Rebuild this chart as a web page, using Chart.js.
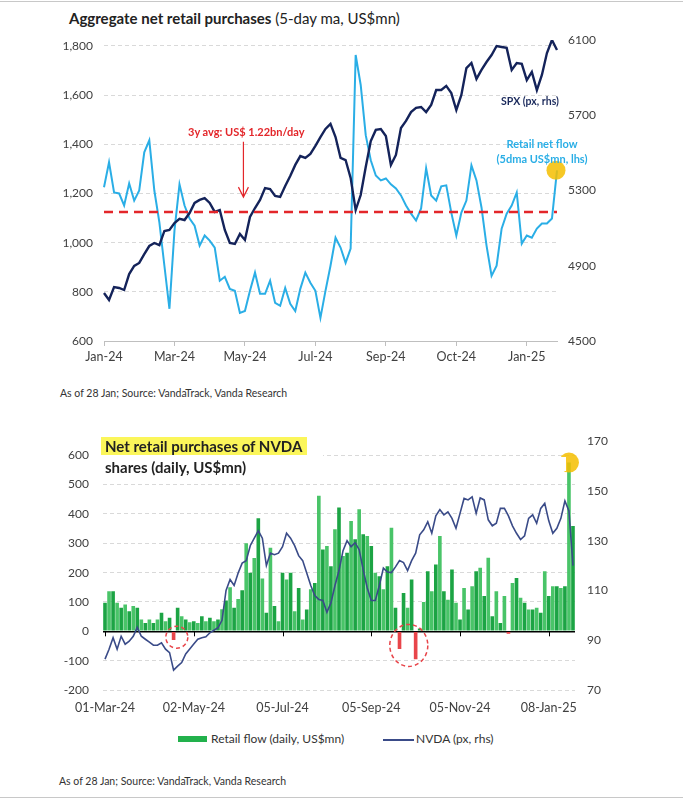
<!DOCTYPE html>
<html>
<head>
<meta charset="utf-8">
<script src="https://cdn.jsdelivr.net/npm/chart.js@4.4.1/dist/chart.umd.min.js"></script>
<style>
  body { margin: 0; background: #fff; font-family: Lato, "Open Sans", sans-serif; }
  #wrap { position: relative; width: 683px; height: 800px; overflow: hidden; background: #fff; }
  .abs { position: absolute; white-space: nowrap; }
  .rule { position: absolute; left: 0; width: 683px; height: 1px; background: #c8c8c8; }
  .src { font-size: 10.5px; color: #333; }
</style>
</head>
<body>
<div id="wrap">
  <div class="rule" style="top:1px"></div>

  <div class="abs" style="left:69px;top:9px;font-size:15px;color:#222;">
    <b>Aggregate net retail purchases</b> (5-day ma, US$mn)
  </div>
  <canvas id="top_chart" class="abs" style="left:0;top:0" width="683" height="380"></canvas>
  <div class="abs" style="left:188px;top:125px;font-size:11px;font-weight:bold;color:#e3262a;">3y avg: US$ 1.22bn/day</div>
  <div class="abs" style="left:501px;top:95px;font-size:10.5px;font-weight:bold;color:#1b2a5c;">SPX (px, rhs)</div>
  <div class="abs" style="left:494px;top:136px;width:96px;text-align:center;font-size:11px;font-weight:bold;color:#2aaee6;line-height:15px;">Retail net flow<br>(5dma US$mn, lhs)</div>
  <div class="abs src" style="left:60px;top:387px;">As of 28 Jan; Source: VandaTrack, Vanda Research</div>

  <canvas id="nvda_chart" class="abs" style="left:0;top:420px" width="683" height="300"></canvas>
  <div class="abs" style="left:101px;top:435px;width:222px;height:44px;background:#fff;"></div>
  <div class="abs" style="left:101px;top:436px;font-size:15px;font-weight:bold;color:#222;line-height:21px;">
    <span style="background:#fbf65a;padding:0 5px 0 4px;">Net retail purchases of NVDA</span><br>
    <span style="padding-left:4px;">shares (daily, US$mn)</span>
  </div>
  <div class="abs" style="left:482px;top:457px;width:84px;height:14px;background:#fff;"></div>

  <div class="abs" style="left:178px;top:736px;width:29px;height:6px;background:#22b14c;"></div>
  <div class="abs" style="left:211px;top:731px;font-size:12px;color:#333;">Retail flow (daily, US$mn)</div>
  <div class="abs" style="left:383px;top:739px;width:31px;height:1.5px;background:#3a4b88;"></div>
  <div class="abs" style="left:416px;top:731px;font-size:12px;color:#333;">NVDA (px, rhs)</div>
  <div class="abs src" style="left:59px;top:775px;">As of 28 Jan; Source: VandaTrack, Vanda Research</div>
  <div class="rule" style="top:797px"></div>
</div>

<script>
// top chart: 5-day MA retail flow vs SPX, one point every ~3 trading days
var topTickLabels = ['Jan-24', 'Mar-24', 'May-24', 'Jul-24', 'Sep-24', 'Oct-24', 'Jan-25'];
var topTickEvery = 14;
var flowTicks = [600, 800, 1000, 1200, 1400, 1600, 1800];
var spxTicks = [4500, 4900, 5300, 5700, 6100];

var spxPx = [4755, 4718, 4787, 4782, 4771, 4856, 4899, 4915, 4962, 5005,
  5021, 5010, 5085, 5090, 5127, 5149, 5143, 5180, 5234, 5250,
  5260, 5234, 5186, 5196, 5090, 5021, 5016, 5069, 5037, 5159,
  5207, 5250, 5313, 5308, 5271, 5266, 5324, 5377, 5436, 5483,
  5473, 5494, 5537, 5584, 5627, 5654, 5584, 5473, 5462, 5367,
  5196, 5276, 5425, 5563, 5622, 5627, 5590, 5436, 5489, 5632,
  5670, 5717, 5739, 5744, 5717, 5755, 5834, 5834, 5856, 5818,
  5728, 5808, 5951, 5978, 5893, 5941, 5983, 6020, 6068, 6063,
  6058, 5941, 5978, 5973, 5887, 5930, 5834, 5914, 6031, 6100, 6047];

var retailFlow = [1225, 1327, 1204, 1200, 1151, 1241, 1171, 1212, 1367, 1416,
  1212, 1082, 906, 731, 1049, 1237, 1151, 1098, 1069, 988,
  1029, 1008, 980, 845, 861, 812, 804, 714, 722, 804,
  878, 792, 792, 845, 755, 743, 816, 751, 722, 812,
  878, 837, 804, 694, 804, 906, 1020, 980, 918, 976,
  1763, 1641, 1437, 1335, 1273, 1253, 1261, 1237, 1220, 1192,
  1151, 1118, 1090, 1139, 1302, 1192, 1171, 1229, 1233, 1122,
  1029, 1122, 1171, 1314, 1253, 1143, 988, 865, 906, 1057,
  1118, 1151, 1204, 996, 1029, 1020, 1057, 1078, 1078, 1098, 1294];

var avgFlow = 1125;

// bottom chart: NVDA daily retail flow vs price, one bar every ~2 trading days
var nvdaTickLabels = ['01-Mar-24', '02-May-24', '05-Jul-24', '05-Sep-24', '05-Nov-24', '08-Jan-25'];
var nvdaTickEvery = 22;
var nvdaFlowTicks = [-200, -100, 0, 100, 200, 300, 400, 500, 600];
var nvdaPxTicks = [70, 90, 110, 130, 150, 170];

var nvdaFlow = [97, 137, 137, 97, 80, 91, 68, 86, 80, 40,
  28, 40, 28, 40, 63, 34, 46, -30, 80, 51,
  40, 31, 34, 28, 51, 34, 46, 34, 40, 75,
  105, 150, 80, 110, 140, 300, 200, 250, 385, 180,
  63, 285, 86, 34, 200, 177, 200, 68, 148, 40,
  74, 143, 165, 462, 279, 291, 222, 348, 422, 257,
  268, 376, 314, 416, 331, 325, 291, 200, 188, 143,
  222, 353, 80, -60, 131, 80, 177, -95, 10, 100,
  205, 137, 228, 325, 137, 108, 211, 97, 40, 148,
  74, 154, 205, 217, 120, 251, 51, 137, 28, 120,
  -8, 165, 182, 114, 97, 74, 74, 80, 63, 205,
  120, 154, 154, 148, 154, 575, 359];

var nvdaPx = [82.4, 86.4, 91, 86.4, 91.6, 88.4, 89.6, 91.6, 95.2, 91.6,
  90.4, 89.2, 88, 88, 89, 86.4, 85, 78, 79.6, 81,
  84.5, 86.5, 88.5, 90.4, 91, 91.4, 93, 94, 95, 98,
  110, 114.4, 112, 117, 121, 122, 128, 131, 134, 131,
  120, 125, 124.4, 125, 127.6, 133, 131, 128, 124, 122,
  117, 112, 108, 106.4, 106, 101.2, 105, 112, 118, 126,
  130, 127.6, 129.2, 126.4, 118.4, 111, 106, 106, 112, 119,
  117.4, 117.2, 119.5, 122, 121.2, 118, 122, 125, 132.4, 134.4,
  137.6, 133, 140, 142.5, 140.4, 141.6, 139, 135, 141, 147,
  146.4, 147.6, 141, 147.2, 146.4, 138.4, 136, 137, 143, 143,
  140, 136, 133, 130.5, 132, 139, 140.4, 137, 143, 145,
  138, 133, 135, 139, 146, 142, 120];

function everyNth(n, names, every) {
  return Array(n).fill().map((_, i) => i % every === 0 ? (names[i / every] || '') : '');
}

function fixedTicks(list) {
  return function(s) { s.ticks = list.map(function(v) { return { value: v }; }); };
}

var FONT = 'Lato, "Open Sans", sans-serif';
var GRID = '#d9d9d9';
var TXT = '#404040';

var topDecor = {
  id: 'topDecor',
  afterDatasetsDraw: function(chart) {
    var ctx = chart.ctx, a = chart.chartArea;
    var xs = chart.scales.x, yl = chart.scales.yL;
    ctx.save();
    // 3y average
    var y = yl.getPixelForValue(avgFlow);
    ctx.strokeStyle = '#e3262a';
    ctx.lineWidth = 2.5;
    ctx.setLineDash([9, 6]);
    ctx.beginPath(); ctx.moveTo(a.left, y); ctx.lineTo(a.right, y); ctx.stroke();
    // arrow from the label
    ctx.setLineDash([]);
    ctx.lineWidth = 1.2;
    var ax = xs.getPixelForValue(27.7);
    var y0 = yl.getPixelForValue(1410), y1 = yl.getPixelForValue(1185);
    ctx.beginPath(); ctx.moveTo(ax, y0); ctx.lineTo(ax, y1);
    ctx.moveTo(ax - 5, y1 - 10); ctx.lineTo(ax, y1); ctx.lineTo(ax + 5, y1 - 10);
    ctx.stroke();
    // highlight on last print
    var pts = chart.getDatasetMeta(1).data;
    var p = pts[pts.length - 1];
    ctx.fillStyle = 'rgba(245,190,0,0.85)';
    ctx.beginPath(); ctx.arc(p.x - 1, p.y, 9.5, 0, Math.PI * 2); ctx.fill();
    ctx.restore();
  }
};

var nvdaDecor = {
  id: 'nvdaDecor',
  afterDatasetsDraw: function(chart) {
    var ctx = chart.ctx;
    var xs = chart.scales.x, yl = chart.scales.yL;
    var y0 = yl.getPixelForValue(0);
    ctx.save();
    // tick marks on the zero line
    ctx.strokeStyle = '#000';
    ctx.lineWidth = 1;
    xs.ticks.forEach(function(t, i) {
      if (!t.label) return;
      var x = Math.round(xs.getPixelForValue(i)) + 0.5;
      ctx.beginPath(); ctx.moveTo(x, y0); ctx.lineTo(x, y0 + 5); ctx.stroke();
    });
    // dashed circles around the outflow days
    ctx.strokeStyle = '#e8454a';
    ctx.lineWidth = 1.5;
    ctx.setLineDash([4, 3]);
    ctx.beginPath(); ctx.arc(xs.getPixelForValue(17.8), yl.getPixelForValue(-20), 11, 0, Math.PI * 2); ctx.stroke();
    ctx.beginPath(); ctx.ellipse(xs.getPixelForValue(75.3), yl.getPixelForValue(-48), 19, 21, 0, 0, Math.PI * 2); ctx.stroke();
    ctx.setLineDash([]);
    // highlight on the spike
    var bars = chart.getDatasetMeta(1).data;
    var big = 0;
    nvdaFlow.forEach(function(v, i) { if (v > nvdaFlow[big]) big = i; });
    ctx.fillStyle = 'rgba(245,190,0,0.85)';
    ctx.beginPath(); ctx.arc(bars[big].x, bars[big].y, 10, 0, Math.PI * 2); ctx.fill();
    ctx.restore();
  }
};

var top_chart, nvda_chart;

document.addEventListener("DOMContentLoaded", function(event) {
  Chart.defaults.font.family = FONT;
  Chart.defaults.color = TXT;

  top_chart = new Chart(document.getElementById('top_chart'), {
    type: 'line',
    data: {
      labels: everyNth(spxPx.length, topTickLabels, topTickEvery),
      datasets: [{
        label: 'SPX (px, rhs)',
        data: spxPx,
        yAxisID: 'yR',
        borderColor: '#14235a',
        borderWidth: 2.4,
        pointRadius: 0,
        order: 0
      }, {
        label: 'Retail net flow (5dma US$mn, lhs)',
        data: retailFlow,
        yAxisID: 'yL',
        borderColor: '#2aaee6',
        borderWidth: 2,
        pointRadius: 0,
        order: 1
      }]
    },
    options: {
      responsive: false,
      animation: false,
      layout: { padding: { top: 40, left: 0, right: 0, bottom: 0 } },
      plugins: { legend: { display: false }, tooltip: { enabled: false } },
      scales: {
        x: {
          afterFit: function(s) { s.height = 39; },
          grid: {
            drawOnChartArea: false, drawTicks: true, tickLength: 5,
            color: function(c) { return c.tick && c.tick.label ? '#bfbfbf' : 'rgba(0,0,0,0)'; },
            tickColor: function(c) { return c.tick && c.tick.label ? '#bfbfbf' : 'rgba(0,0,0,0)'; }
          },
          border: { display: true, color: '#bfbfbf', width: 1 },
          ticks: { autoSkip: false, maxRotation: 0, padding: 3, font: { size: 12.5 } }
        },
        yL: {
          position: 'left',
          min: 600, max: 1824,
          afterFit: function(s) { s.width = 104; },
          afterBuildTicks: fixedTicks(flowTicks),
          grid: {
            drawTicks: false,
            color: function(c) { return c.tick && c.tick.value === 600 ? 'rgba(0,0,0,0)' : GRID; }
          },
          border: { display: false, dash: [4, 3] },
          ticks: {
            autoSkip: false, padding: 11, font: { size: 12 },
            callback: function(v) { return v.toLocaleString('en-US'); }
          }
        },
        yR: {
          position: 'right',
          min: 4500, max: 6100,
          afterFit: function(s) { s.width = 126; },
          afterBuildTicks: fixedTicks(spxTicks),
          grid: { display: false, drawTicks: false },
          border: { display: false },
          ticks: { autoSkip: false, padding: 11, font: { size: 12 }, callback: function(v) { return String(v); } }
        }
      }
    },
    plugins: [topDecor]
  });

  nvda_chart = new Chart(document.getElementById('nvda_chart'), {
    type: 'bar',
    data: {
      labels: everyNth(nvdaFlow.length, nvdaTickLabels, nvdaTickEvery),
      datasets: [{
        type: 'line',
        label: 'NVDA (px, rhs)',
        data: nvdaPx,
        yAxisID: 'yR',
        borderColor: '#3a4b88',
        borderWidth: 1.6,
        pointRadius: 0,
        order: 0
      }, {
        type: 'bar',
        label: 'Retail flow (daily, US$mn)',
        data: nvdaFlow,
        yAxisID: 'yL',
        backgroundColor: function(c) {
          if (c.raw < 0) return '#e8454a';
          return c.dataIndex % 2 ? '#49c468' : '#1ca444';
        },
        barPercentage: 0.9,
        categoryPercentage: 1,
        order: 1
      }]
    },
    options: {
      responsive: false,
      animation: false,
      layout: { padding: { top: 21, left: 0, right: 0, bottom: 0 } },
      plugins: { legend: { display: false }, tooltip: { enabled: false } },
      scales: {
        x: {
          afterFit: function(s) { s.height = 30; },
          grid: { display: false, drawTicks: false },
          border: { display: false },
          ticks: { autoSkip: false, maxRotation: 0, padding: 10, font: { size: 12.5 } }
        },
        yL: {
          position: 'left',
          min: -200, max: 648,
          afterFit: function(s) { s.width = 103; },
          afterBuildTicks: fixedTicks(nvdaFlowTicks),
          grid: {
            drawTicks: false,
            color: function(c) { return c.tick && c.tick.value === 0 ? '#000' : GRID; },
            lineWidth: function(c) { return c.tick && c.tick.value === 0 ? 1.5 : 1; }
          },
          border: {
            display: false,
            dash: function(c) { return c.tick && c.tick.value === 0 ? [] : [4, 3]; }
          },
          ticks: { autoSkip: false, padding: 14, font: { size: 12 } }
        },
        yR: {
          position: 'right',
          min: 70, max: 170,
          afterFit: function(s) { s.width = 108; },
          afterBuildTicks: fixedTicks(nvdaPxTicks),
          grid: { display: false, drawTicks: false },
          border: { display: false },
          ticks: { autoSkip: false, padding: 12, font: { size: 12 } }
        }
      }
    },
    plugins: [nvdaDecor]
  });
});
</script>
</body>
</html>
